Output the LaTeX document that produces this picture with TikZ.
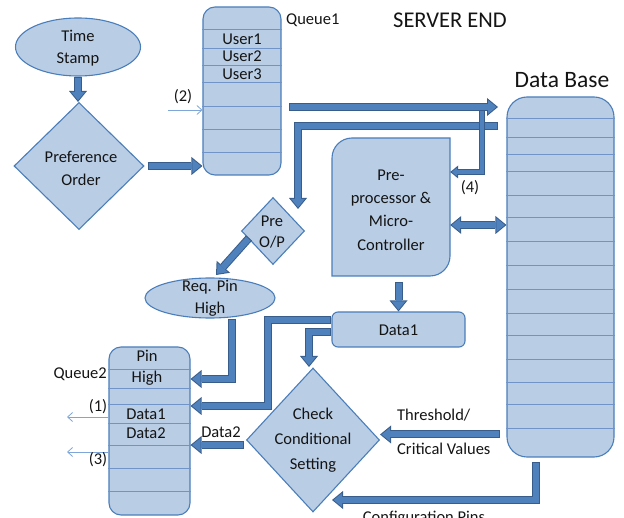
\documentclass[tikz,border=0pt]{standalone}
\usepackage{fontspec}
\setmainfont{Carlito}
\usetikzlibrary{arrows.meta,shapes.geometric,calc}

\definecolor{boxfill}{HTML}{B9CDE5}
\definecolor{boxedge}{HTML}{4A7EBB}
\definecolor{rowedge}{HTML}{7094C8}
\definecolor{flowfill}{HTML}{4F81BD}
\definecolor{flowedge}{HTML}{385D8A}
\definecolor{pointer}{HTML}{7EA6D8}

\tikzset{
  shapebase/.style={draw=boxedge, fill=boxfill, line width=1.1pt, inner sep=0pt},
  queuebox/.style={shapebase, rectangle, rounded corners=12pt},
  oval/.style={shapebase, ellipse},
  decision/.style={shapebase, diamond},
  rowline/.style={draw=rowedge, line width=0.8pt},
  txt/.style={font=\fontsize{16.5}{#1}\selectfont, align=center, inner sep=0pt, text=black!92},
  txt/.default=22,
  title/.style={font=\fontsize{#1}{28}\selectfont, inner sep=0pt, text=black!92},
  % block arrows: dark outer stroke, lighter inner stroke
  flowout/.style={draw=flowedge, line width=8pt,
    -{Triangle[width=18pt,length=11pt,line width=0pt]}},
  flowin/.style={draw=flowfill, line width=6pt, shorten >=1.6pt, shorten <=1pt,
    -{Triangle[width=13.8pt,length=8.4pt,line width=0pt]}},
  flowoutthin/.style={draw=flowedge, line width=5.5pt,
    -{Triangle[width=13pt,length=8pt,line width=0pt]}},
  flowinthin/.style={draw=flowfill, line width=3.5pt, shorten >=1.6pt, shorten <=1pt,
    -{Triangle[width=8.8pt,length=5.4pt,line width=0pt]}},
  flowoutboth/.style={draw=flowedge, line width=8pt,
    {Triangle[width=18pt,length=11pt,line width=0pt]}-{Triangle[width=18pt,length=11pt,line width=0pt]}},
  flowinboth/.style={draw=flowfill, line width=6pt, shorten >=1.6pt, shorten <=1.6pt,
    {Triangle[width=13.8pt,length=8.4pt,line width=0pt]}-{Triangle[width=13.8pt,length=8.4pt,line width=0pt]}},
  pointer/.style={draw=pointer, line width=0.8pt, -{Straight Barb[length=5pt,width=9pt]}},
}

\newcommand\flowarrow[1]{\draw[flowout] #1; \draw[flowin] #1;}
\newcommand\flowarrowthin[1]{\draw[flowoutthin] #1; \draw[flowinthin] #1;}
\newcommand\flowarrowboth[1]{\draw[flowoutboth] #1; \draw[flowinboth] #1;}

\begin{document}
\begin{tikzpicture}[x=1pt,y=-1pt]
\useasboundingbox (0,0) rectangle (624,518);
\clip (0,0) rectangle (624,518);

% ---- shapes ----
\node[oval, minimum width=125pt, minimum height=58pt] (ts) at (78,47) {};
\node[decision, minimum width=130pt, minimum height=127pt] (pref) at (79,166) {};
\node[queuebox, minimum width=78pt, minimum height=168pt] (q1) at (242,91) {};
\node[queuebox, rounded corners=20pt, minimum width=107pt, minimum height=360pt] (db) at (560.5,277) {};
% pre-processor box: rounded top-left and bottom-right corners
\draw[shapebase] (332,276) -- (332,158) .. controls (332,147) and (341,138) .. (352,138)
  -- (450,138) -- (450,256) .. controls (450,267) and (441,276) .. (430,276) -- cycle;
\node[minimum width=118pt, minimum height=138pt, inner sep=0pt] (proc) at (391,207) {};
\node[decision, minimum width=63pt, minimum height=67pt] (preop) at (273,231) {};
\node[oval, minimum width=130pt, minimum height=40pt] (req) at (210,298) {};
\node[queuebox, rounded corners=6pt, minimum width=133pt, minimum height=35pt] (d1) at (398.5,329.5) {};
\node[decision, minimum width=133pt, minimum height=144pt] (chk) at (313,440) {};
\node[queuebox, minimum width=81pt, minimum height=168pt] (q2) at (149.5,431) {};

% ---- queue rows ----
\foreach \y in {29,48,65,82,106,129,152}
  \draw[rowline] (q1.west |- 0,\y) -- (q1.east |- 0,\y);
\foreach \y in {369,388,404,423,445,468,491}
  \draw[rowline] (q2.west |- 0,\y) -- (q2.east |- 0,\y);
\foreach \y in {118,137,154,171,195,217,241,265,289,313,335,359,382,404,428}
  \draw[rowline] (db.west |- 0,\y) -- (db.east |- 0,\y);

% ---- block arrows ----
\coordinate (dbtap) at (498,126.5);
\coordinate (preopin) at (298,209);
\coordinate (dbout) at (498,107);
\coordinate (q1out) at (289,107);
\coordinate (tap4) at (482,107);
\coordinate (dbthr) at (500,434.5);
\coordinate (dbcfg) at (536,462);
\coordinate (cfgin) at (332,500);

\flowarrow{(ts.south) -- (ts.south |- pref.north)}
\flowarrow{([xshift=3pt]pref.east) -- (q1.west |- pref.east)}
\flowarrow{(dbtap) -- (preopin |- dbtap) -- (preopin)}
\flowarrowthin{(tap4) -- (482,172) -- (proc.east |- 0,172)}
\flowarrow{(q1out) -- (dbout)}
\flowarrowboth{(proc.east |- 0,225) -- (db.west |- 0,225)}
\flowarrow{(d1.north |- 0,282) -- (d1.north)}
\flowarrow{(249,238) -- (216,275)}
\flowarrow{(req.south -| 232,0) -- (232,379) -- (q2.east |- 0,379)}
\flowarrow{(d1.west |- 0,320) -- (268,320) -- (268,406) -- (q2.east |- 0,406)}
\flowarrow{(d1.west |- 0,332) -- (309,332) -- (309,367)}
\flowarrow{(dbthr) -- (chk.east |- dbthr)}
\flowarrow{(dbcfg) -- (dbcfg |- cfgin) -- (cfgin)}
\flowarrow{(244,445) -- (q2.east |- 0,445)}

% ---- thin pointer arrows ----
\coordinate (in2) at (168,110);
\coordinate (out1) at (67,417);
\coordinate (out3) at (67,452);
\draw[pointer] (in2) -- (q1.west |- in2);
\draw[pointer] (q2.west |- out1) -- (out1);
\draw[pointer] (q2.west |- out3) -- (out3);

% ---- texts ----
\node[txt] (tst) at (78,48) {Time\\Stamp};
\node[txt=23] (preft) at (81,168.5) {Preference\\Order};
\node[txt] (u1) at (242,39) {User1};
\node[txt] (u2) at (242,56.5) {User2};
\node[txt] (u3) at (242,74) {User3};
\node[txt, anchor=west] (q1l) at (286,20) {Queue1};
\node[title=22.5] (srv) at (450,20) {SERVER END};
\node[title=23.5] (dbl) at (562,80) {Data Base};
\node[txt] (l2) at (183,97) {(2)};
\node[txt] (l4) at (470,188) {(4)};
\node[txt=23.3] (proct) at (391,210) {Pre-\\processor \&\\Micro-\\Controller};
\node[txt=21] (preopt) at (272,232.5) {Pre\\O/P};
\node[txt] (reqt) at (210,298) {Req. Pin\\High};
\node[txt] (d1t) at (398.5,330) {Data1};
\node[txt=25] (chkt) at (313,440) {Check\\Conditional\\Setting};
\node[txt, anchor=west] (thr) at (397,415) {Threshold/};
\node[txt, anchor=west] (crit) at (397,449) {Critical Values};
\node[txt, anchor=base] (cfg) at (424,522.5) {Configuration Pins};
\node[txt] (d2l) at (221,432) {Data2};
\node[txt, anchor=east] (q2l) at (107,374) {Queue2};
\node[txt] (l1) at (98,407) {(1)};
\node[txt] (l3) at (98,460) {(3)};
\node[txt] (pin) at (147,356) {Pin};
\node[txt] (high) at (147,378) {High};
\node[txt] (qd1) at (146,414) {Data1};
\node[txt] (qd2) at (146,433) {Data2};
\end{tikzpicture}
\end{document}
